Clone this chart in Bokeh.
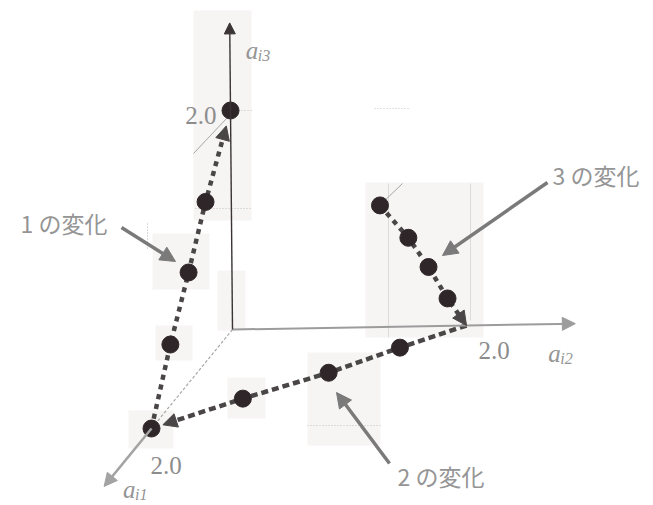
from bokeh.plotting import figure
from bokeh.models import Range1d, Arrow, NormalHead, Label
from bokeh.embed import file_html
from bokeh.resources import INLINE

# ---- data: coordinates (a_i1, a_i2, a_i3) along each change ----
change1_a1 = [2.0, 1.52, 1.06, 0.63, 0.0]
change1_a2 = [0.0, 0.0, 0.0, 0.0, 0.0]
change1_a3 = [0.0, 0.55, 1.0, 1.45, 2.0]

change2_a1 = [0.0, 0.43, 0.92, 1.42, 2.0]
change2_a2 = [2.0, 1.58, 1.14, 0.58, 0.0]
change2_a3 = [0.0, 0.0, 0.0, 0.0, 0.0]

change3_a1 = [0.0, 0.0, 0.0, 0.0, 0.0]
change3_a2 = [1.27, 1.51, 1.68, 1.84, 2.0]
change3_a3 = [1.11, 0.81, 0.54, 0.25, 0.0]

change_labels = ["1 の変化", "2 の変化", "3 の変化"]
axis_subscripts = ["i1", "i2", "i3"]
axis_lengths = [3.17, 2.93, 2.8]
tick_value = 2.0
tick_label = "2.0"

# ---- oblique projection of the 3-D space onto the page plane ----
ORIGIN = (232.0, 329.0)
BASIS = [(-40.5, 49.5), (117.0, -2.0), (-1.0, -109.5)]


def proj(a1, a2, a3):
    x = ORIGIN[0] + a1 * BASIS[0][0] + a2 * BASIS[1][0] + a3 * BASIS[2][0]
    y = ORIGIN[1] + a1 * BASIS[0][1] + a2 * BASIS[1][1] + a3 * BASIS[2][1]
    return x, y


def proj_path(a1s, a2s, a3s):
    pts = [proj(a, b, c) for a, b, c in zip(a1s, a2s, a3s)]
    return [p[0] for p in pts], [p[1] for p in pts]


def along(p, q, d):
    """point at distance d from q back towards p"""
    dx, dy = q[0] - p[0], q[1] - p[1]
    n = (dx * dx + dy * dy) ** 0.5
    return q[0] - dx / n * d, q[1] - dy / n * d


W, H = 653, 505
p = figure(width=W, height=H, x_range=Range1d(0, W), y_range=Range1d(H, 0),
           x_axis_type=None, y_axis_type=None, toolbar_location=None,
           output_backend="svg", min_border=0, outline_line_color=None,
           background_fill_color="white", border_fill_color="white")
p.grid.visible = False

SERIF = "Liberation Serif"
JP = "Noto Sans CJK JP"
DOT = "#2f2629"
DASH = "#4a4546"

# faint scanned panels behind parts of the drawing
panel_l = [193, 152, 155, 217, 128, 227, 365, 307]
panel_r = [251, 209, 192, 245, 173, 265, 483, 380]
panel_t = [10, 233, 325, 270, 410, 377, 182, 352]
panel_b = [220, 289, 360, 330, 448, 418, 337, 445]
p.quad(left=panel_l, right=panel_r, top=panel_t, bottom=panel_b,
       fill_color="#f7f4f4", line_color=None)

# faint guide strokes
p.segment(x0=[232, 195, 307, 374], y0=[110, 208, 425, 108],
          x1=[252, 250, 380, 408], y1=[110, 208, 425, 108],
          line_color="#c4c0c0", line_width=1, line_dash="1 2")
p.segment(x0=[147], y0=[223], x1=[147], y1=[248],
          line_color="#b8b4b4", line_width=1, line_dash="1 2")
p.segment(x0=[388, 470], y0=[183, 183], x1=[388, 470], y1=[337, 320],
          line_color="#dedada", line_width=1)
top_pt = proj(0, 0, tick_value)
p.segment(x0=[top_pt[0] - 3, 379], y0=[top_pt[1] + 7, 205],
          x1=[193, 402], y1=[153, 183], line_color="#a9a5a5", line_width=1)

# ---- axes ----
o = proj(0, 0, 0)
e1_tick = proj(tick_value, 0, 0)
e1_tip = proj(axis_lengths[0], 0, 0)
e2_tip = proj(0, axis_lengths[1], 0)
e3_tip = proj(0, 0, axis_lengths[2])

p.line([o[0], e1_tick[0]], [o[1], e1_tick[1]], line_color="#a8a8a8",
       line_width=1.2, line_dash="3 2")
p.add_layout(Arrow(x_start=e1_tick[0], y_start=e1_tick[1], x_end=e1_tip[0], y_end=e1_tip[1],
                   line_color="#a3a3a3", line_width=2.5,
                   end=NormalHead(size=13, fill_color="#a3a3a3", line_color="#a3a3a3")))
p.add_layout(Arrow(x_start=o[0], y_start=o[1], x_end=e2_tip[0], y_end=e2_tip[1],
                   line_color="#9c9c9c", line_width=2,
                   end=NormalHead(size=13, fill_color="#9c9c9c", line_color="#9c9c9c")))
p.add_layout(Arrow(x_start=o[0], y_start=o[1], x_end=e3_tip[0], y_end=e3_tip[1],
                   line_color="#3a3435", line_width=1.4,
                   end=NormalHead(size=11, fill_color="#3a3435", line_color="#3a3435")))

# tick labels at 2.0 on each axis
t1 = proj(tick_value, 0, 0)
t2 = proj(0, tick_value, 0)
t3 = proj(0, 0, tick_value)
for (x, y), dx, dy, align in [(t1, -1, 37, "left"), (t2, 12, 25, "left"), (t3, -14, 5, "right")]:
    p.add_layout(Label(x=x + dx, y=y + dy, text=tick_label, text_font=SERIF,
                       text_font_size="25px", text_color="#8c8c8c", text_align=align,
                       text_baseline="alphabetic"))

# axis names a_i1, a_i2, a_i3
for (x, y), dx, dy, sub in [(e1_tip, 19, 3, axis_subscripts[0]),
                            (e2_tip, -27, 30, axis_subscripts[1]),
                            (e3_tip, 16, 28, axis_subscripts[2])]:
    p.add_layout(Label(x=x + dx, y=y + dy, text="a", text_font=SERIF, text_font_style="italic",
                       text_font_size="25px", text_color="#959595", text_baseline="alphabetic"))
    p.add_layout(Label(x=x + dx + 12, y=y + dy + 5, text=sub, text_font=SERIF,
                       text_font_style="italic", text_font_size="16px", text_color="#959595",
                       text_baseline="alphabetic"))

# ---- dashed trajectories with arrowheads ----
paths = [
    (proj_path(change1_a1, change1_a2, change1_a3), 16, "5 5"),
    (proj_path(change2_a1, change2_a2, change2_a3), 12, "7 4"),
    (proj_path(change3_a1, change3_a2, change3_a3), 0, "5 5"),
]
for (xs, ys), gap, dash in paths:
    end = (xs[-1], ys[-1])
    prev = (xs[-2], ys[-2])
    tip = along(prev, end, gap) if gap else end
    base = along(prev, tip, 12)
    p.line(xs[:-1] + [base[0]], ys[:-1] + [base[1]], line_color=DASH,
           line_width=4.5, line_dash=dash)
    p.add_layout(Arrow(x_start=base[0], y_start=base[1], x_end=tip[0], y_end=tip[1],
                       line_color=DASH, line_width=3,
                       end=NormalHead(size=14, fill_color=DASH, line_color=DASH)))

# dots
c1x, c1y = proj_path(change1_a1, change1_a2, change1_a3)
c2x, c2y = proj_path(change2_a1, change2_a2, change2_a3)
c3x, c3y = proj_path(change3_a1, change3_a2, change3_a3)
dot_x = c1x + c2x[1:-1] + c3x[:-1]
dot_y = c1y + c2y[1:-1] + c3y[:-1]
p.scatter(dot_x, dot_y, size=17, fill_color=DOT, line_color=DOT)

# ---- callouts ----
CALLOUT = "#7a7a7a"
callout_start = [(121, 227), (389, 463), (547, 182)]
callout_tip = [(175, 261), (336, 392), (442, 255)]
callout_text_pos = [(20, 222), (397, 475), (552, 174)]
for (sx, sy), (tx, ty), (lx, ly), txt in zip(callout_start, callout_tip,
                                             callout_text_pos, change_labels):
    p.add_layout(Arrow(x_start=sx, y_start=sy, x_end=tx, y_end=ty,
                       line_color=CALLOUT, line_width=3.5,
                       end=NormalHead(size=15, fill_color=CALLOUT, line_color=CALLOUT)))
    p.add_layout(Label(x=lx, y=ly, text=txt, text_font=JP, text_font_size="23px",
                       text_font_style="normal", text_color="#959595",
                       text_baseline="middle", text_align="left"))

open("out.html", "w").write(file_html(p, INLINE))
